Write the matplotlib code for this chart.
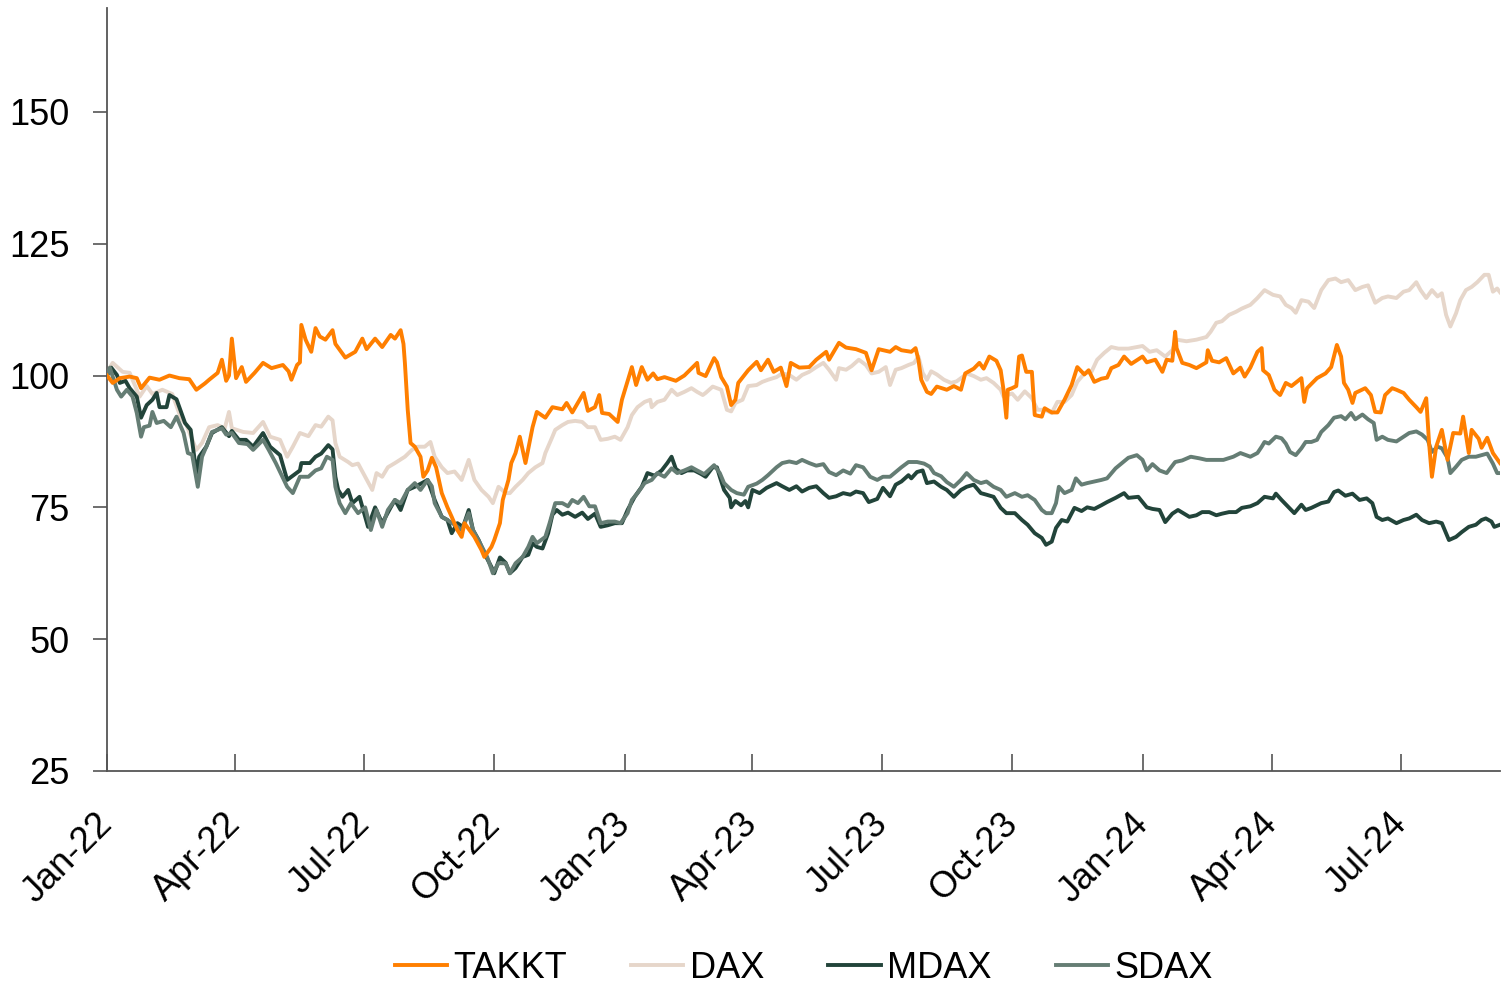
import matplotlib
matplotlib.use("Agg")
import matplotlib.pyplot as plt
import matplotlib.dates as mdates
from matplotlib.transforms import ScaledTranslation
import pandas as pd

plt.rcParams["font.family"] = ["Liberation Sans", "DejaVu Sans"]

# -----------------------------
# Data (indexed, 1 Jan 2022 = 100)
# -----------------------------
takkt_dates = [
    "2022-01-01", "2022-01-05", "2022-01-10", "2022-01-17", "2022-01-22", "2022-01-25", "2022-01-31",
    "2022-02-07", "2022-02-14", "2022-02-21", "2022-02-28",
    "2022-03-05", "2022-03-11", "2022-03-14", "2022-03-20", "2022-03-23", "2022-03-26", "2022-03-28", "2022-03-30",
    "2022-04-02", "2022-04-06", "2022-04-09", "2022-04-15", "2022-04-21", "2022-04-27",
    "2022-05-05", "2022-05-09", "2022-05-11", "2022-05-15", "2022-05-17", "2022-05-18", "2022-05-21", "2022-05-25", "2022-05-28", "2022-05-31",
    "2022-06-04", "2022-06-09", "2022-06-11", "2022-06-18", "2022-06-25", "2022-06-30",
    "2022-07-03", "2022-07-09", "2022-07-14", "2022-07-20", "2022-07-23", "2022-07-27", "2022-07-29", "2022-07-30",
    "2022-08-01", "2022-08-03", "2022-08-06", "2022-08-10", "2022-08-12", "2022-08-15", "2022-08-18", "2022-08-21", "2022-08-25", "2022-08-29",
    "2022-09-01", "2022-09-05", "2022-09-08", "2022-09-10", "2022-09-17", "2022-09-22", "2022-09-24", "2022-09-29",
    "2022-10-01", "2022-10-05", "2022-10-07", "2022-10-11", "2022-10-13", "2022-10-16", "2022-10-19", "2022-10-23", "2022-10-28", "2022-10-31",
    "2022-11-06", "2022-11-11", "2022-11-18", "2022-11-21", "2022-11-25",
    "2022-12-03", "2022-12-06", "2022-12-11", "2022-12-14", "2022-12-16", "2022-12-21", "2022-12-27", "2022-12-30",
    "2023-01-06", "2023-01-09", "2023-01-13", "2023-01-17", "2023-01-21", "2023-01-24", "2023-01-29",
    "2023-02-06", "2023-02-12", "2023-02-21", "2023-02-22", "2023-02-27",
    "2023-03-05", "2023-03-07", "2023-03-10", "2023-03-14", "2023-03-17", "2023-03-20", "2023-03-22", "2023-03-29",
    "2023-04-04", "2023-04-07", "2023-04-12", "2023-04-16", "2023-04-21", "2023-04-25", "2023-04-28",
    "2023-05-04", "2023-05-11", "2023-05-16", "2023-05-23", "2023-05-25",
    "2023-06-01", "2023-06-06", "2023-06-13", "2023-06-20", "2023-06-24", "2023-06-29",
    "2023-07-07", "2023-07-11", "2023-07-15", "2023-07-22", "2023-07-25", "2023-07-27", "2023-07-29",
    "2023-08-02", "2023-08-05", "2023-08-09", "2023-08-16", "2023-08-21", "2023-08-26", "2023-08-29",
    "2023-09-04", "2023-09-08", "2023-09-11", "2023-09-15", "2023-09-20", "2023-09-23", "2023-09-25", "2023-09-27", "2023-09-28",
    "2023-10-01", "2023-10-04", "2023-10-06", "2023-10-08", "2023-10-11", "2023-10-15", "2023-10-17", "2023-10-22", "2023-10-24", "2023-10-29",
    "2023-11-02", "2023-11-07", "2023-11-12", "2023-11-16", "2023-11-21", "2023-11-24", "2023-11-28",
    "2023-12-03", "2023-12-07", "2023-12-10", "2023-12-15", "2023-12-19", "2023-12-24",
    "2024-01-01", "2024-01-04", "2024-01-10", "2024-01-15", "2024-01-18", "2024-01-22", "2024-01-24", "2024-01-25", "2024-01-29",
    "2024-02-03", "2024-02-08", "2024-02-15", "2024-02-16", "2024-02-19", "2024-02-24", "2024-02-29",
    "2024-03-05", "2024-03-10", "2024-03-13", "2024-03-17", "2024-03-22", "2024-03-25", "2024-03-26", "2024-03-30",
    "2024-04-03", "2024-04-07", "2024-04-11", "2024-04-15", "2024-04-22", "2024-04-24", "2024-04-26",
    "2024-05-03", "2024-05-09", "2024-05-13", "2024-05-17", "2024-05-20", "2024-05-22", "2024-05-25", "2024-05-28", "2024-05-30",
    "2024-06-06", "2024-06-10", "2024-06-13", "2024-06-17", "2024-06-20", "2024-06-25", "2024-06-28",
    "2024-07-03", "2024-07-07", "2024-07-12", "2024-07-15", "2024-07-19", "2024-07-21", "2024-07-23", "2024-07-26", "2024-07-30",
    "2024-08-03", "2024-08-07", "2024-08-12", "2024-08-14", "2024-08-18", "2024-08-20", "2024-08-25", "2024-08-27", "2024-08-31",
    "2024-09-04", "2024-09-09",
]
takkt = [
    100, 98.6, 99.5, 99.8, 99.5, 97.6, 99.6,
    99.2, 100, 99.5, 99.3,
    97.3, 98.5, 99.2, 100.5, 103, 99, 100, 107,
    99.5, 101.6, 98.8, 100.5, 102.4, 101.4,
    102, 100.8, 99.2, 102, 102.5, 109.6, 106.8, 104.5, 109, 107.4,
    106.8, 108.6, 106, 103.4, 104.5, 107,
    105, 107, 105.4, 107.7, 107, 108.6, 106, 102.4,
    93.5, 87.2, 86.5, 84.6, 80.8, 82, 84.4, 82.6, 77.7, 75,
    73.2, 70.7, 69.4, 72, 69.4, 66.9, 65.6, 67.5,
    68.8, 72, 76.4, 80.2, 83.4, 85.3, 88.4, 83.4, 90.2, 93.1,
    92, 94, 93.6, 94.8, 93,
    96.7, 93.3, 94, 96.3, 92.9, 92.7, 91.2, 95.4,
    101.6, 98.2, 101.6, 99.2, 100.4, 99.3, 99.7,
    99, 100, 102.4, 100.5, 99.9,
    103.3, 102.5, 99.7, 97.9, 94.4, 95.4, 98.6, 101,
    102.6, 101, 103, 100.7, 101.5, 98, 102.4,
    101.5, 101.6, 103, 104.5, 103,
    106.2, 105.3, 105, 104.3, 101, 105,
    104.5, 105.4, 104.8, 104.5, 105.2, 103, 99.2,
    96.9, 96.5, 97.9, 97.3, 98, 97.3, 100.4,
    101.3, 102.4, 101.3, 103.6, 102.8, 101, 97.3, 92, 97.3,
    97.6, 98, 103.6, 103.8, 100.7, 100.7, 92.5, 92.2, 93.8, 93,
    93, 95.4, 98.2, 101.6, 100.2, 101, 98.8,
    99.4, 99.6, 101.4, 102, 103.6, 102.2,
    103.6, 102.5, 103, 100.7, 103, 102.8, 108.3, 105.2, 102.4,
    102, 101.4, 102.5, 104.8, 102.8, 102.5, 103.3,
    100.4, 101.5, 99.8, 101.5, 104.5, 105.2, 101, 100.1,
    97.3, 96.3, 98.6, 98, 99.5, 95, 97.6,
    99.5, 100.4, 101.6, 105.8, 103.6, 98.6, 97.3, 94.8, 96.7,
    97.6, 96.3, 93.1, 93, 96.3, 97.6, 97.3,
    96.7, 95.4, 94, 93.1, 95.7, 87.2, 80.8, 86.5, 89.7,
    84, 89.1, 89, 92.2, 85.3, 89.7, 88, 86.3, 88.2,
    85.3, 83.4,
]

dax_dates = [
    "2022-01-01", "2022-01-03", "2022-01-05", "2022-01-12", "2022-01-17", "2022-01-24", "2022-01-29",
    "2022-02-02", "2022-02-09", "2022-02-16", "2022-02-22", "2022-02-26",
    "2022-03-05", "2022-03-09", "2022-03-14", "2022-03-20", "2022-03-25", "2022-03-28", "2022-03-30",
    "2022-04-07", "2022-04-14", "2022-04-21", "2022-04-26",
    "2022-05-03", "2022-05-08", "2022-05-12", "2022-05-17", "2022-05-23", "2022-05-28",
    "2022-06-01", "2022-06-06", "2022-06-09", "2022-06-11", "2022-06-14", "2022-06-20", "2022-06-23", "2022-06-27",
    "2022-07-02", "2022-07-07", "2022-07-10", "2022-07-14", "2022-07-18", "2022-07-23", "2022-07-30",
    "2022-08-04", "2022-08-08", "2022-08-13", "2022-08-17", "2022-08-20", "2022-08-25", "2022-08-29",
    "2022-09-03", "2022-09-08", "2022-09-13", "2022-09-17", "2022-09-22", "2022-09-27", "2022-09-30",
    "2022-10-04", "2022-10-09", "2022-10-12", "2022-10-16", "2022-10-21", "2022-10-25", "2022-10-30",
    "2022-11-04", "2022-11-06", "2022-11-11", "2022-11-13", "2022-11-18", "2022-11-22", "2022-11-27",
    "2022-12-02", "2022-12-06", "2022-12-11", "2022-12-15", "2022-12-20", "2022-12-25", "2022-12-29",
    "2023-01-03", "2023-01-06", "2023-01-10", "2023-01-15", "2023-01-19", "2023-01-20", "2023-01-24", "2023-01-29",
    "2023-02-03", "2023-02-07", "2023-02-12", "2023-02-17", "2023-02-21", "2023-02-25", "2023-02-27",
    "2023-03-04", "2023-03-07", "2023-03-10", "2023-03-14", "2023-03-17", "2023-03-20", "2023-03-25", "2023-03-29",
    "2023-04-04", "2023-04-08", "2023-04-12", "2023-04-18", "2023-04-22", "2023-04-27",
    "2023-05-02", "2023-05-06", "2023-05-11", "2023-05-16", "2023-05-21", "2023-05-25", "2023-05-30",
    "2023-06-01", "2023-06-06", "2023-06-10", "2023-06-15", "2023-06-20", "2023-06-24", "2023-06-29",
    "2023-07-04", "2023-07-07", "2023-07-11", "2023-07-15", "2023-07-20", "2023-07-24", "2023-07-27", "2023-07-30",
    "2023-08-02", "2023-08-05", "2023-08-09", "2023-08-14", "2023-08-19", "2023-08-23", "2023-08-28", "2023-08-30",
    "2023-09-04", "2023-09-09", "2023-09-13", "2023-09-18", "2023-09-23", "2023-09-25",
    "2023-10-01", "2023-10-05", "2023-10-10", "2023-10-15", "2023-10-19", "2023-10-24", "2023-10-29",
    "2023-11-02", "2023-11-07", "2023-11-12", "2023-11-16", "2023-11-21", "2023-11-26", "2023-11-30",
    "2023-12-05", "2023-12-10", "2023-12-15", "2023-12-22",
    "2024-01-01", "2024-01-06", "2024-01-11", "2024-01-17", "2024-01-22", "2024-01-25",
    "2024-02-01", "2024-02-08", "2024-02-15", "2024-02-18", "2024-02-22", "2024-02-26",
    "2024-03-02", "2024-03-07", "2024-03-11", "2024-03-17", "2024-03-22", "2024-03-27",
    "2024-04-02", "2024-04-07", "2024-04-11", "2024-04-15", "2024-04-18", "2024-04-22", "2024-04-27",
    "2024-05-01", "2024-05-06", "2024-05-11", "2024-05-16", "2024-05-20", "2024-05-25", "2024-05-30",
    "2024-06-04", "2024-06-08", "2024-06-13", "2024-06-18", "2024-06-22", "2024-06-28",
    "2024-07-03", "2024-07-07", "2024-07-12", "2024-07-15", "2024-07-19", "2024-07-23", "2024-07-27", "2024-07-30",
    "2024-08-02", "2024-08-05", "2024-08-09", "2024-08-12", "2024-08-16", "2024-08-20", "2024-08-24", "2024-08-29",
    "2024-09-01", "2024-09-04", "2024-09-07", "2024-09-09",
]
dax = [
    100, 101.5, 102.4, 100.7, 100.5, 96, 98,
    96.5, 97.3, 96.5, 92, 90.6,
    85.9, 87.2, 90.2, 90.6, 90, 93.1, 90,
    89.3, 89.1, 91.2, 88.4,
    87.8, 84.6, 86.5, 89.1, 88.5, 90.6,
    90.3, 92.2, 91.5, 87.2, 84.6, 83.6, 83, 83.3,
    80.8, 78.3, 81.5, 80.8, 82.6, 83.4, 84.6,
    85.9, 86.5, 86.5, 87.4, 84.6, 82.6, 81.5,
    81.8, 80.2, 84, 80.2, 78.3, 77, 75.8,
    78.9, 77.7, 77.7, 78.9, 80.2, 81.5, 82.6,
    83.4, 85.3, 88.4, 89.7, 90.6, 91.2, 91.4,
    91.2, 90.2, 90.2, 87.8, 88, 88.4, 87.8,
    90.2, 92.5, 94, 95, 95.4, 94, 95, 95.4,
    97.3, 96.3, 96.9, 97.6, 96.9, 96.3, 96.7,
    97.9, 97.6, 97.3, 93.5, 93.2, 94.8, 95.4, 98,
    98.2, 98.8, 99.2, 99.7, 100.4, 100.1,
    99.2, 100.1, 100.7, 101.6, 102.4, 101.1, 99.2,
    101.4, 101.1, 101.8, 103, 102, 100.4, 100.7,
    101.6, 98.2, 101.1, 101.4, 102, 102.4, 103.6, 100.5,
    99.2, 100.8, 100.2, 99.2, 98.6, 98.9, 99.9, 100.4,
    99.9, 99.2, 99.5, 98.6, 97.3, 96,
    96.6, 95.4, 97, 95.7, 93.5, 93.5, 92.9,
    95, 95, 96.3, 98.8, 100.4, 100.7, 103,
    104.3, 105.4, 105.1, 105.1,
    105.6, 104.5, 104.8, 103.6, 104.8, 106.8,
    106.5, 106.8, 107.3, 108.3, 110, 110.3,
    111.5, 112.1, 112.7, 113.4, 114.7, 116.2,
    115.3, 115, 113.4, 112.8, 111.9, 114.3, 114,
    112.8, 116.2, 118.1, 118.4, 117.7, 118.1, 116.2,
    116.8, 117.1, 113.8, 114.7, 115, 114.7,
    115.9, 116.2, 117.7, 116.2, 114.7, 116.2, 115, 115.6,
    111.5, 109.3, 111.8, 114.3, 116.2, 116.8, 117.7, 119.1,
    119.1, 115.9, 116.5, 115.8,
]

mdax_dates = [
    "2022-01-01", "2022-01-04", "2022-01-08", "2022-01-10", "2022-01-14", "2022-01-17", "2022-01-22", "2022-01-25", "2022-01-29",
    "2022-02-02", "2022-02-05", "2022-02-07", "2022-02-12", "2022-02-14", "2022-02-19", "2022-02-25",
    "2022-03-01", "2022-03-05", "2022-03-07", "2022-03-12", "2022-03-16", "2022-03-23", "2022-03-28", "2022-03-30",
    "2022-04-04", "2022-04-09", "2022-04-14", "2022-04-21", "2022-04-26",
    "2022-05-03", "2022-05-08", "2022-05-12", "2022-05-17", "2022-05-18", "2022-05-24", "2022-05-28",
    "2022-06-01", "2022-06-06", "2022-06-09", "2022-06-11", "2022-06-13", "2022-06-16", "2022-06-20", "2022-06-23", "2022-06-28",
    "2022-07-04", "2022-07-09", "2022-07-14", "2022-07-20", "2022-07-23", "2022-07-27",
    "2022-08-01", "2022-08-06", "2022-08-11", "2022-08-15", "2022-08-20", "2022-08-25", "2022-08-29",
    "2022-09-01", "2022-09-05", "2022-09-09", "2022-09-13", "2022-09-16", "2022-09-20", "2022-09-24", "2022-09-29",
    "2022-10-01", "2022-10-05", "2022-10-09", "2022-10-12", "2022-10-16", "2022-10-21", "2022-10-25", "2022-10-28", "2022-10-31",
    "2022-11-04", "2022-11-08", "2022-11-11", "2022-11-14", "2022-11-18", "2022-11-22", "2022-11-27",
    "2022-12-02", "2022-12-06", "2022-12-11", "2022-12-15", "2022-12-20", "2022-12-25", "2022-12-30",
    "2023-01-03", "2023-01-08", "2023-01-13", "2023-01-17", "2023-01-22", "2023-01-27", "2023-01-31",
    "2023-02-03", "2023-02-06", "2023-02-10", "2023-02-14", "2023-02-19", "2023-02-24", "2023-02-27",
    "2023-03-04", "2023-03-07", "2023-03-09", "2023-03-12", "2023-03-16", "2023-03-17", "2023-03-20", "2023-03-24", "2023-03-27", "2023-03-29",
    "2023-04-01", "2023-04-06", "2023-04-11", "2023-04-18", "2023-04-22", "2023-04-27",
    "2023-05-02", "2023-05-06", "2023-05-11", "2023-05-16", "2023-05-21", "2023-05-25", "2023-05-30",
    "2023-06-04", "2023-06-09", "2023-06-13", "2023-06-18", "2023-06-22", "2023-06-28",
    "2023-07-02", "2023-07-07", "2023-07-11", "2023-07-15", "2023-07-20", "2023-07-22", "2023-07-26", "2023-07-30",
    "2023-08-02", "2023-08-07", "2023-08-12", "2023-08-16", "2023-08-21", "2023-08-26", "2023-08-30",
    "2023-09-04", "2023-09-09", "2023-09-13", "2023-09-18", "2023-09-23", "2023-09-27",
    "2023-10-03", "2023-10-08", "2023-10-12", "2023-10-17", "2023-10-22", "2023-10-25", "2023-10-29",
    "2023-11-01", "2023-11-05", "2023-11-09", "2023-11-14", "2023-11-19", "2023-11-23", "2023-11-28",
    "2023-12-03", "2023-12-07", "2023-12-13", "2023-12-19", "2023-12-22", "2023-12-29",
    "2024-01-04", "2024-01-08", "2024-01-13", "2024-01-17", "2024-01-22", "2024-01-26",
    "2024-02-03", "2024-02-08", "2024-02-12", "2024-02-17", "2024-02-22", "2024-02-26",
    "2024-03-02", "2024-03-07", "2024-03-11", "2024-03-17", "2024-03-22", "2024-03-27",
    "2024-04-02", "2024-04-04", "2024-04-08", "2024-04-13", "2024-04-17", "2024-04-22", "2024-04-25", "2024-04-29",
    "2024-05-06", "2024-05-11", "2024-05-15", "2024-05-18", "2024-05-23", "2024-05-28",
    "2024-06-02", "2024-06-07", "2024-06-11", "2024-06-14", "2024-06-18", "2024-06-22", "2024-06-28",
    "2024-07-03", "2024-07-07", "2024-07-12", "2024-07-16", "2024-07-21", "2024-07-26", "2024-07-30",
    "2024-08-04", "2024-08-09", "2024-08-13", "2024-08-18", "2024-08-23", "2024-08-27", "2024-08-30",
    "2024-09-03", "2024-09-05", "2024-09-09",
]
mdax = [
    100, 101.5, 100.1, 98.6, 99, 97.6, 96, 92, 94.4,
    95.4, 96.7, 94, 94, 96.3, 95.5, 91,
    89.7, 81.5, 84.6, 86.5, 89.1, 90.2, 88.5, 89.5,
    87.8, 87.8, 86.5, 89.1, 86.5,
    84.9, 80.2, 81, 82, 83.4, 83.4, 84.6,
    85.2, 86.8, 86, 80.8, 78.3, 77, 78.3, 75.8, 77,
    71.3, 75, 72, 75, 76.4, 74.5,
    78.3, 78.9, 79.6, 80.2, 76.4, 73.2, 72.6,
    70.1, 72, 71.3, 74.5, 70.7, 68.8, 66.3, 63.7,
    62.5, 65.5, 64.5, 62.5, 63.5, 65.6, 66, 68.2, 67.5,
    67.2, 70.1, 73.6, 74.5, 73.6, 74, 73.2,
    74, 72.8, 73.8, 71.3, 71.6, 72, 72,
    74.5, 77, 78.9, 81.5, 81, 82, 83.4,
    84.6, 82.3, 81.5, 82, 82, 81.3, 80.8,
    82.6, 82.6, 80.8, 78.3, 76.8, 75, 76.2, 75.4, 76.2, 75,
    78.3, 77.7, 78.7, 79.6, 79, 78.3,
    79, 78, 78.7, 79, 77.7, 76.8, 77.1,
    77.7, 77.4, 78, 77.7, 76, 76.6,
    78.7, 77.1, 79.3, 79.9, 81.1, 80.5, 81.7, 82,
    79.6, 79.9, 78.9, 78.3, 77, 78.3, 78.9,
    79.3, 77.7, 77.4, 77, 74.9, 73.9,
    73.9, 72.6, 71.7, 70.1, 69.2, 67.9, 68.5,
    71.1, 72.6, 72.3, 74.9, 74.3, 75, 74.7,
    75.4, 76, 76.8, 77.7, 76.8, 77,
    75, 74.7, 74.5, 72.2, 73.8, 74.5,
    73.2, 73.5, 74.1, 74.1, 73.5, 73.8,
    74.1, 74.1, 74.9, 75.2, 75.8, 77,
    76.7, 77.6, 76.4, 75, 73.9, 75.5, 74.5, 74.9,
    75.8, 76.1, 77.9, 78.2, 77.2, 77.6,
    76.4, 76.7, 75.8, 73.2, 72.6, 72.9, 72,
    72.6, 72.9, 73.6, 72.6, 72, 72.3, 72,
    68.8, 69.4, 70.3, 71.3, 71.7, 72.6, 72.9,
    72.3, 71.3, 71.7,
]

sdax_dates = [
    "2022-01-01", "2022-01-03", "2022-01-08", "2022-01-11", "2022-01-15", "2022-01-19", "2022-01-22", "2022-01-25", "2022-01-27", "2022-01-31",
    "2022-02-02", "2022-02-05", "2022-02-10", "2022-02-15", "2022-02-19", "2022-02-24", "2022-02-27",
    "2022-03-02", "2022-03-06", "2022-03-09", "2022-03-12", "2022-03-16", "2022-03-23", "2022-03-26", "2022-03-30",
    "2022-04-04", "2022-04-10", "2022-04-14", "2022-04-21", "2022-04-25", "2022-04-30",
    "2022-05-08", "2022-05-12", "2022-05-17", "2022-05-23", "2022-05-28",
    "2022-06-01", "2022-06-05", "2022-06-09", "2022-06-11", "2022-06-14", "2022-06-18", "2022-06-22", "2022-06-27",
    "2022-07-02", "2022-07-06", "2022-07-10", "2022-07-14", "2022-07-18", "2022-07-23", "2022-07-27",
    "2022-08-01", "2022-08-06", "2022-08-10", "2022-08-15", "2022-08-18", "2022-08-20", "2022-08-25", "2022-08-29",
    "2022-09-03", "2022-09-08", "2022-09-13", "2022-09-16", "2022-09-21", "2022-09-26", "2022-09-30",
    "2022-10-04", "2022-10-09", "2022-10-12", "2022-10-16", "2022-10-21", "2022-10-25", "2022-10-28", "2022-10-31",
    "2022-11-06", "2022-11-09", "2022-11-13", "2022-11-18", "2022-11-22", "2022-11-25", "2022-11-29",
    "2022-12-03", "2022-12-07", "2022-12-11", "2022-12-15", "2022-12-20", "2022-12-25", "2022-12-29",
    "2023-01-03", "2023-01-06", "2023-01-10", "2023-01-15", "2023-01-20", "2023-01-24", "2023-01-29",
    "2023-02-03", "2023-02-07", "2023-02-12", "2023-02-17", "2023-02-21", "2023-02-26",
    "2023-03-05", "2023-03-09", "2023-03-12", "2023-03-17", "2023-03-21", "2023-03-26", "2023-03-29",
    "2023-04-04", "2023-04-08", "2023-04-12", "2023-04-18", "2023-04-22", "2023-04-27",
    "2023-05-02", "2023-05-06", "2023-05-11", "2023-05-16", "2023-05-21", "2023-05-25", "2023-05-30",
    "2023-06-04", "2023-06-09", "2023-06-13", "2023-06-18", "2023-06-23", "2023-06-28",
    "2023-07-02", "2023-07-07", "2023-07-11", "2023-07-15", "2023-07-20", "2023-07-26", "2023-07-31",
    "2023-08-04", "2023-08-07", "2023-08-12", "2023-08-16", "2023-08-21", "2023-08-26", "2023-08-30",
    "2023-09-04", "2023-09-09", "2023-09-13", "2023-09-18", "2023-09-23", "2023-09-27",
    "2023-10-03", "2023-10-08", "2023-10-12", "2023-10-17", "2023-10-22", "2023-10-25", "2023-10-29",
    "2023-11-01", "2023-11-03", "2023-11-07", "2023-11-12", "2023-11-15", "2023-11-19", "2023-11-23", "2023-11-28",
    "2023-12-03", "2023-12-07", "2023-12-13", "2023-12-17", "2023-12-22", "2023-12-28",
    "2024-01-01", "2024-01-04", "2024-01-08", "2024-01-13", "2024-01-18", "2024-01-24", "2024-01-29",
    "2024-02-04", "2024-02-10", "2024-02-15", "2024-02-22", "2024-02-27",
    "2024-03-05", "2024-03-10", "2024-03-17", "2024-03-22", "2024-03-25", "2024-03-27", "2024-03-30",
    "2024-04-04", "2024-04-08", "2024-04-11", "2024-04-14", "2024-04-18", "2024-04-22", "2024-04-25", "2024-04-29",
    "2024-05-03", "2024-05-06", "2024-05-11", "2024-05-15", "2024-05-20", "2024-05-23", "2024-05-27", "2024-05-30",
    "2024-06-04", "2024-06-08", "2024-06-12", "2024-06-14", "2024-06-18", "2024-06-22", "2024-06-28",
    "2024-07-03", "2024-07-07", "2024-07-12", "2024-07-16", "2024-07-20", "2024-07-23", "2024-07-27", "2024-07-30",
    "2024-08-03", "2024-08-05", "2024-08-09", "2024-08-13", "2024-08-18", "2024-08-23", "2024-08-27", "2024-08-31",
    "2024-09-04", "2024-09-07", "2024-09-09",
]
sdax = [
    100, 101.5, 97.3, 96, 97.3, 96, 92.9, 88.4, 90.2, 90.5,
    93.1, 91, 91.4, 90.2, 92.2, 89.1, 85.3,
    85, 78.9, 84.6, 86.5, 89.3, 90, 88.8, 89.1,
    87.2, 87, 85.9, 87.8, 85.9, 83.4,
    78.9, 77.7, 80.8, 80.8, 82,
    82.4, 84.6, 84, 78.9, 75.8, 73.9, 75.8, 73.9,
    75, 70.7, 74.5, 71.3, 74.5, 76.4, 75.8,
    78.3, 79.6, 78.3, 80.2, 79, 75.8, 73.2, 72.6,
    71.7, 70.7, 73.9, 70.7, 68.2, 65.6, 62.5,
    64.4, 64.4, 62.5, 64.4, 65.6, 67.5, 69.4, 68.2,
    69.4, 72, 75.8, 75.8, 75.2, 76.4, 75.8,
    77, 75.2, 75.2, 72, 72.3, 72.3, 72,
    73.9, 76.4, 77.7, 79.6, 80.2, 81.5, 80.8,
    82.4, 81.5, 82, 82.6, 82, 81.3,
    83, 81.5, 79.6, 78.3, 77.7, 77.4, 78.9,
    79.5, 80.2, 81.1, 82.6, 83.4, 83.7,
    83.4, 84, 83.4, 82.9, 83.2, 81.7, 81.1,
    82, 81.4, 83, 82.6, 80.8, 80.2,
    80.8, 80.8, 81.7, 82.6, 83.6, 83.6, 83.3,
    82.7, 81.5, 80.9, 79.8, 78.9, 80.2, 81.5,
    80.2, 79.6, 79.9, 78.9, 78.3, 77,
    77.7, 77, 77.3, 76.4, 74.5, 73.9, 73.9,
    75.8, 78.9, 77.7, 78.3, 80.5, 79.3, 79.6, 79.9,
    80.2, 80.5, 82.4, 83.3, 84.4, 84.9,
    84, 82, 83.2, 82, 81.5, 83.6, 83.9,
    84.6, 84.3, 84, 84, 84,
    84.6, 85.3, 84.6, 85.3, 86.5, 87.4, 87.1,
    88.4, 88.1, 87.1, 85.5, 84.9, 86.2, 87.4, 87.4,
    87.8, 89.3, 90.6, 92, 92.3, 91.7, 92.9, 91.7,
    92.6, 91.7, 91, 87.8, 88.4, 87.8, 87.5,
    88.4, 89.1, 89.4, 88.8, 87.8, 85.5, 86.5, 86.2,
    84.4, 81.5, 82.7, 84, 84.6, 84.6, 84.9, 85.2,
    83.3, 81.5, 81.5,
]

names = ["TAKKT", "DAX", "MDAX", "SDAX"]
colors = ["#FF7F00", "#E6D6CA", "#22443A", "#657D74"]
y_ticks = [25, 50, 75, 100, 125, 150]

# -----------------------------
# Plot
# -----------------------------
fig = plt.figure(figsize=(15.01, 9.86), dpi=100)
ax = fig.add_axes([107 / 1501, 215 / 986, 1393 / 1501, 763 / 986])

series = [(takkt_dates, takkt), (dax_dates, dax), (mdax_dates, mdax), (sdax_dates, sdax)]
zorders = [5, 2, 3, 4]
for (d, v), name, c, z in zip(series, names, colors, zorders):
    assert len(d) == len(v), name
    ax.plot(pd.to_datetime(d), v, color=c, lw=2.8, label=name, zorder=z,
            solid_joinstyle="round")

ax.set_xlim(pd.Timestamp("2022-01-01"), pd.Timestamp("2024-09-09"))
ax.set_ylim(25, 169.7)
ax.set_yticks(y_ticks)
ax.xaxis.set_major_locator(mdates.MonthLocator(bymonth=[1, 4, 7, 10]))
ax.xaxis.set_major_formatter(mdates.DateFormatter("%b-%y"))

for s in ["top", "right"]:
    ax.spines[s].set_visible(False)
for s in ["left", "bottom"]:
    ax.spines[s].set_color("#555555")
    ax.spines[s].set_linewidth(1.3)

ax.tick_params(axis="x", direction="in", length=12, width=1.2, color="#555555",
               labelsize=26, pad=14)
ax.tick_params(axis="y", direction="out", length=10, width=1.2, color="#555555",
               labelsize=26, pad=17)

# rotated month labels, pushed a bit further down-left along their baseline
shift = ScaledTranslation(-0.12, -0.16, fig.dpi_scale_trans)
for lab in ax.get_xticklabels():
    lab.set_rotation(45)
    lab.set_ha("right")
    lab.set_rotation_mode("anchor")
    lab.set_transform(lab.get_transform() + shift)

ax.legend(loc="center", bbox_to_anchor=(0.5, -0.259), ncol=4, frameon=False,
          fontsize=26, handlelength=1.45, handletextpad=0.17, columnspacing=1.78)

fig.savefig("out.png", dpi=100)
